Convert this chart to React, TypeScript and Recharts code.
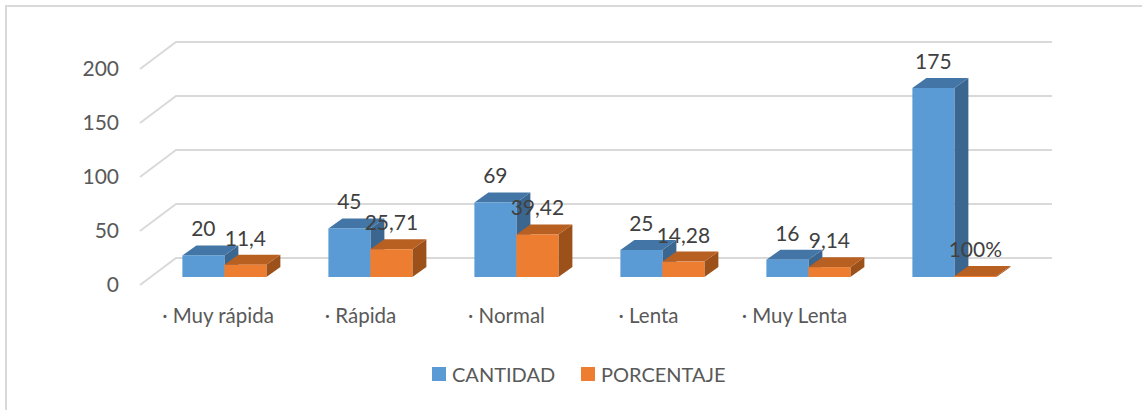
import React from "react";
import { BarChart, Bar, XAxis, YAxis, CartesianGrid, Legend } from "recharts";

const categories = ["· Muy rápida", "· Rápida", "· Normal", "· Lenta", "· Muy Lenta", ""];
const cantidad = [20, 45, 69, 25, 16, 175];
const porcentaje = [11.4, 25.71, 39.42, 14.28, 9.14, 1];
const cantidadLabels = ["20", "45", "69", "25", "16", "175"];
const porcentajeLabels = ["11,4", "25,71", "39,42", "14,28", "9,14", "100%"];
const yTicks = [0, 50, 100, 150, 200];
const xLabelShift = [-6, -9.5, -9.5, -13.5, -13.5, 0];

const FONT = "Lato, 'Noto Sans', sans-serif";
const data = categories.map((name, i) => ({
  name,
  CANTIDAD: cantidad[i],
  PORCENTAJE: porcentaje[i],
}));

const DX = 14;
const DY = 10;

const make3D = (front: string, top: string, side: string) => (p: any) => {
  const { x, y, width: w, height: h } = p;
  return (
    <g>
      <polygon points={`${x + w},${y} ${x + w + DX},${y - DY} ${x + w + DX},${y + h - DY} ${x + w},${y + h}`} fill={side} />
      <polygon points={`${x},${y} ${x + DX},${y - DY} ${x + w + DX},${y - DY} ${x + w},${y}`} fill={top} />
      <rect x={x} y={y} width={w} height={h} fill={front} />
    </g>
  );
};

const makeLabel = (texts: string[]) => (p: any) => (
  <text
    x={p.x + p.width / 2}
    y={p.y - 26}
    dy={7}
    textAnchor="middle"
    fontFamily={FONT}
    fontSize={21}
    fill="#404040"
  >
    {texts[p.index]}
  </text>
);

const gridLine = (p: any) => {
  const { x1, x2, y1, index } = p;
  return (
    <path
      key={index}
      d={`M${x1 - 11},${y1 + 8} L${x1 + 25},${y1 - 19} L${x2 + 25},${y1 - 19}`}
      fill="none"
      stroke="#d9d9d9"
      strokeWidth={2}
    />
  );
};

const YTick = (p: any) => (
  <text x={119} y={p.y + 7 + 7.5} textAnchor="end" fontFamily={FONT} fontSize={21} fill="#595959">
    {p.payload.value}
  </text>
);

const XTick = (p: any) => (
  <text
    x={p.x + (xLabelShift[p.index] ?? 0)}
    y={323}
    textAnchor="middle"
    fontFamily={FONT}
    fontSize={20.5}
    fill="#595959"
  >
    {p.payload.value}
  </text>
);

const LegendContent = (p: any) => {
  const lefts = [432, 581];
  return (
    <div style={{ position: "relative", height: 0, width: 0 }}>
      {(p.payload || []).map((e: any, i: number) => (
        <div key={e.value} style={{ position: "absolute", left: lefts[i], top: 0, whiteSpace: "nowrap", fontFamily: FONT, fontSize: 20, color: "#595959", lineHeight: "24px" }}>
          <span style={{ position: "absolute", left: 0, top: 5, width: 14, height: 14, background: e.color }} />
          <span style={{ position: "absolute", left: 20, top: 0 }}>{e.value}</span>
        </div>
      ))}
    </div>
  );
};

export default function App() {
  return (
    <div style={{ position: "absolute", left: 0, top: 0, width: 1142, height: 410, background: "#fff", overflow: "hidden" }}>
      <div style={{ position: "absolute", left: 5, top: 5, width: 1137, height: 405, borderLeft: "2px solid #d9d9d9", borderTop: "2px solid #d9d9d9" }} />
      <BarChart
        width={1142}
        height={410}
        data={data}
        margin={{ top: 61, right: 115, bottom: 93, left: 111 }}
        barGap={0}
        barCategoryGap="21.5%"
        style={{ position: "absolute", left: 0, top: 0 }}
      >
        <CartesianGrid vertical={false} horizontal={gridLine} />
        <XAxis dataKey="name" height={40} axisLine={false} tickLine={false} interval={0} tick={XTick} />
        <YAxis width={40} domain={[0, 200]} ticks={yTicks} axisLine={false} tickLine={false} tick={YTick} />
        <Legend
          content={LegendContent}
          wrapperStyle={{ position: "absolute", left: 0, top: 362, width: 0, height: 0 }}
        />
        <Bar dataKey="CANTIDAD" fill="#5B9BD5" isAnimationActive={false} shape={make3D("#5B9BD5", "#4376A6", "#3B668F")} label={makeLabel(cantidadLabels)} />
        <Bar dataKey="PORCENTAJE" fill="#ED7D31" isAnimationActive={false} shape={make3D("#ED7D31", "#B85F22", "#9B5119")} label={makeLabel(porcentajeLabels)} />
      </BarChart>
    </div>
  );
}
